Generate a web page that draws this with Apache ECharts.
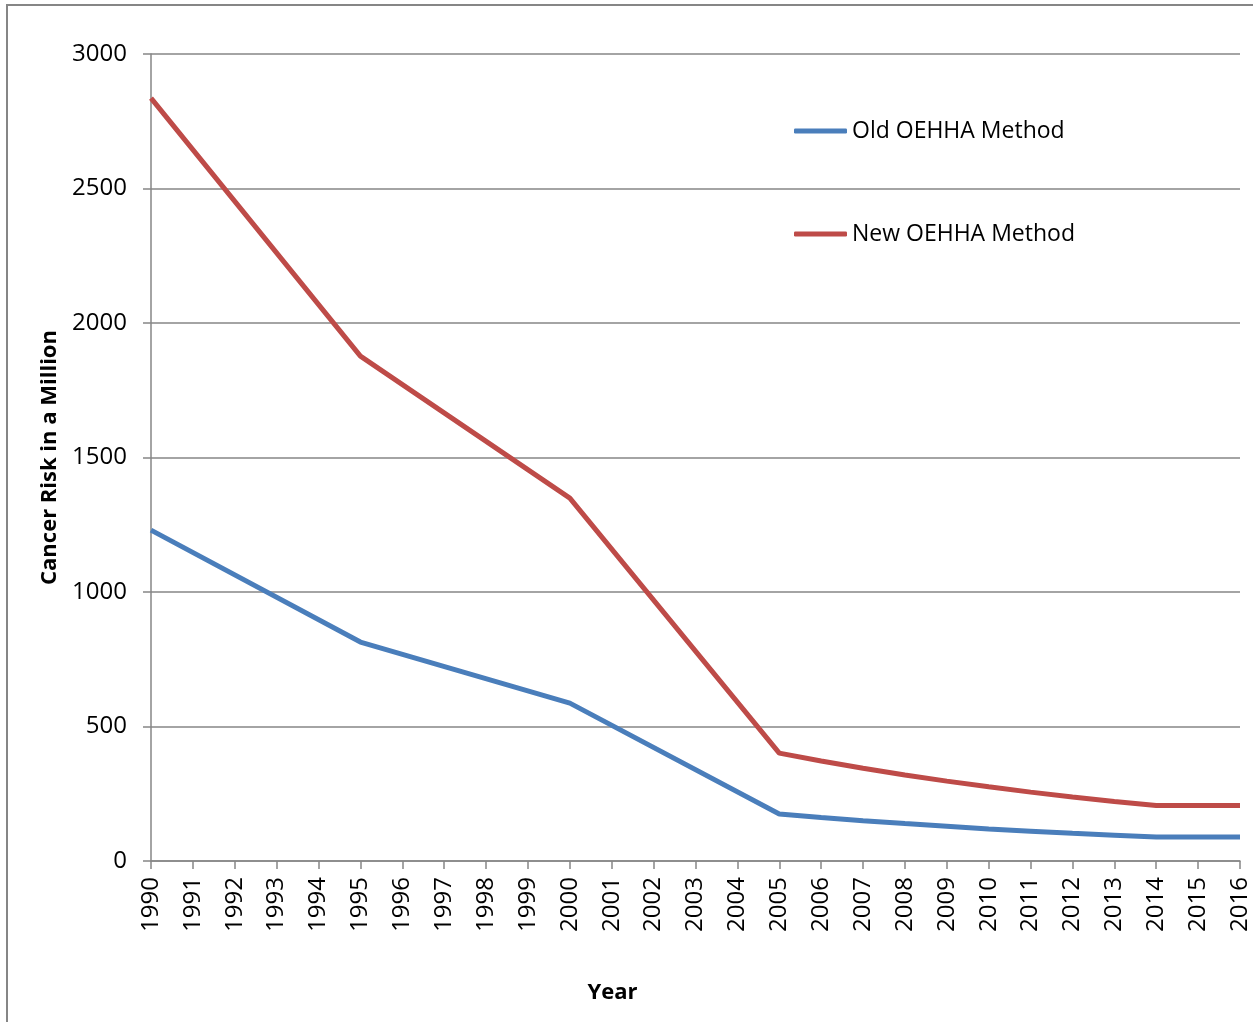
<!DOCTYPE html>
<html>
<head>
<meta charset="utf-8">
<script src="https://cdn.jsdelivr.net/npm/echarts@6/dist/echarts.min.js"></script>
<style>
html,body{margin:0;padding:0;background:#fff;}
#chart{width:1253px;height:1022px;}
</style>
</head>
<body>
<div id="chart"></div>
<script>
const years = ['1990','1991','1992','1993','1994','1995','1996','1997','1998','1999','2000','2001','2002','2003','2004','2005','2006','2007','2008','2009','2010','2011','2012','2013','2014','2015','2016'];
const oldMethod = [1230,null,null,null,null,814,null,null,null,null,587,null,null,null,null,175,162,150,139,129,119,111,103,96,89,89,89];
const newMethod = [2836,null,null,null,null,1877,null,null,null,null,1349,null,null,null,null,401,372,345,320,297,276,256,238,221,206,206,206];
const yTicks = {min:0, max:3000, interval:500};

const FONT = '"Open Sans", sans-serif';
const GRAY = '#868686';
const chart = echarts.init(document.getElementById('chart'), null, {renderer:'canvas'});
chart.setOption({
  animation:false,
  backgroundColor:'#fff',
  graphic:[{type:'rect', shape:{x:7,y:5,width:1400,height:1200}, style:{fill:'none', stroke:GRAY, lineWidth:2}, silent:true}],
  grid:{left:151,right:13,top:54,bottom:161,containLabel:false},
  legend:{
    orient:'vertical', left:789, top:111,
    itemWidth:53, itemHeight:5, itemGap:73, icon:'roundRect',
    textStyle:{fontFamily:FONT,fontSize:23,color:'#000',lineHeight:30},
    data:['Old OEHHA Method','New OEHHA Method']
  },
  xAxis:{
    type:'category', data:years, boundaryGap:false,
    name:'Year', nameLocation:'middle', nameGap:121,
    nameTextStyle:{fontFamily:FONT,fontSize:22,fontWeight:'bold',color:'#000',padding:[0,166,0,0]},
    axisLine:{lineStyle:{color:GRAY,width:1.5}},
    axisTick:{show:true,length:8,alignWithLabel:true,lineStyle:{color:GRAY,width:1.5},interval:0},
    axisLabel:{rotate:90,interval:0,margin:16,fontFamily:FONT,fontSize:24,color:'#000'},
    splitLine:{show:false}
  },
  yAxis:{
    type:'value', min:yTicks.min, max:yTicks.max, interval:yTicks.interval,
    name:'Cancer Risk in a Million', nameLocation:'middle', nameGap:86,
    nameTextStyle:{fontFamily:FONT,fontSize:22,fontWeight:'bold',color:'#000'},
    axisLine:{show:true,lineStyle:{color:GRAY,width:1.5}},
    axisTick:{show:true,length:8,lineStyle:{color:GRAY,width:1.5}},
    axisLabel:{margin:24,fontFamily:FONT,fontSize:24,color:'#000',formatter:function(v){return String(v);}},
    splitLine:{show:true,lineStyle:{color:GRAY,width:1.5}}
  },
  series:[
    {name:'Old OEHHA Method', type:'line', data:oldMethod, connectNulls:true, symbol:'none',
     lineStyle:{color:'#4a7ebb',width:5}, itemStyle:{color:'#4a7ebb'}},
    {name:'New OEHHA Method', type:'line', data:newMethod, connectNulls:true, symbol:'none',
     lineStyle:{color:'#be4b48',width:5}, itemStyle:{color:'#be4b48'}}
  ]
});
</script>
</body>
</html>
